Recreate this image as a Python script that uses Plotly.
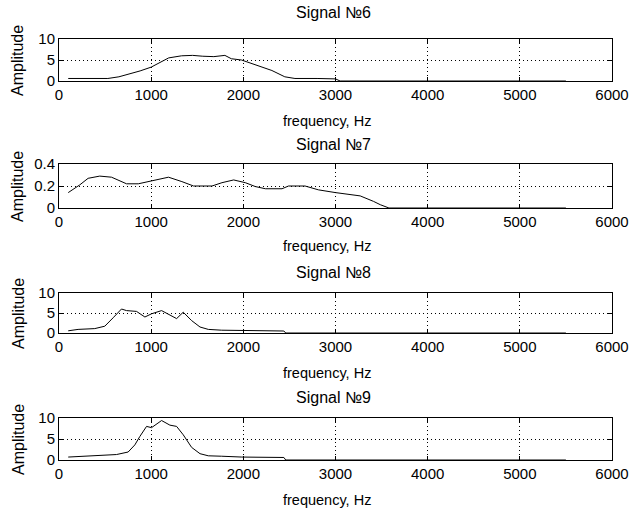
import plotly.graph_objects as go

# ---- data ----
titles = ["Signal №6", "Signal №7", "Signal №8", "Signal №9"]

freq6 = [100, 300, 530, 650, 750, 880, 1000, 1100, 1190, 1330, 1450, 1560, 1680, 1800, 1870, 1980, 2130, 2310, 2450, 2560, 2800, 3000, 3050, 5500]
amp6 = [0.6, 0.6, 0.6, 1.0, 1.6, 2.4, 3.3, 4.4, 5.5, 6.0, 6.1, 5.9, 5.8, 6.1, 5.3, 5.0, 3.8, 2.5, 1.0, 0.6, 0.6, 0.5, 0, 0]

freq7 = [100, 225, 316, 442, 570, 733, 860, 1007, 1188, 1333, 1460, 1660, 1768, 1895, 2022, 2130, 2240, 2420, 2490, 2670, 2815, 3000, 3160, 3268, 3413, 3486, 3580, 5500]
amp7 = [0.14, 0.21, 0.27, 0.29, 0.28, 0.22, 0.22, 0.25, 0.28, 0.24, 0.20, 0.20, 0.23, 0.255, 0.23, 0.195, 0.175, 0.175, 0.20, 0.20, 0.165, 0.14, 0.12, 0.11, 0.06, 0.03, 0, 0]

freq8 = [100, 207, 388, 497, 587, 678, 733, 841, 932, 1004, 1113, 1203, 1276, 1348, 1439, 1530, 1620, 1765, 1983, 2440, 2460, 5500]
amp8 = [0.55, 0.9, 1.1, 1.7, 3.8, 6.0, 5.6, 5.4, 4.0, 4.8, 5.6, 4.5, 3.6, 5.2, 3.1, 1.5, 0.9, 0.7, 0.6, 0.5, 0, 0]

freq9 = [100, 460, 624, 750, 823, 877, 950, 1004, 1040, 1113, 1203, 1276, 1348, 1439, 1530, 1620, 1765, 1983, 2440, 2460, 5500]
amp9 = [0.7, 1.1, 1.3, 1.9, 3.6, 5.6, 8.0, 7.7, 8.3, 9.4, 8.3, 8.0, 6.0, 3.0, 1.5, 1.0, 0.9, 0.7, 0.6, 0, 0]

x_ticks = [0, 1000, 2000, 3000, 4000, 5000, 6000]
y_ticks_big = [0, 5, 10]
y_ticks_small = [0, 0.2, 0.4]
y_ticklabels_small = ["0", "0.2", "0.4"]

series = [(freq6, amp6), (freq7, amp7), (freq8, amp8), (freq9, amp9)]
yranges = [[0, 10], [0, 0.4], [0, 10], [0, 10]]

# ---- layout geometry (body margin removed in the page) ----
W, H = 629, 509
L_PX, R_PX = 59, 612
T_PX, B_PX = 39, 460
span = B_PX - T_PX
pw = R_PX - L_PX

def py(p):
    return (B_PX - p) / span

def px(p):
    return (p - L_PX) / pw

panels_px = [(39, 81), (164, 208), (293, 333), (418, 460)]
title_px = [12.5, 144, 272, 397]
xlabel_px = [121, 246, 373, 500]

FONT = "Liberation Sans, Arial, sans-serif"

fig = go.Figure()
for i, (f, a) in enumerate(series):
    n = "" if i == 0 else str(i + 1)
    fig.add_trace(go.Scatter(x=f, y=a, mode="lines", line=dict(color="black", width=1),
                             xaxis="x" + n, yaxis="y" + n, showlegend=False, hoverinfo="skip"))

layout = dict(
    width=W, height=H,
    margin=dict(l=L_PX, r=W - R_PX, t=T_PX, b=H - B_PX, autoexpand=False),
    paper_bgcolor="white", plot_bgcolor="white",
    font=dict(family=FONT, size=15, color="black"),
    showlegend=False,
    annotations=[],
)
common_axis = dict(showline=True, linecolor="black", linewidth=1, mirror="ticks",
                   ticks="inside", ticklen=4, tickcolor="black",
                   showgrid=True, gridcolor="black", gridwidth=1, griddash="1px,3px",
                   zeroline=False, automargin=False, ticklabeloverflow="allow",
                   tickfont=dict(family=FONT, size=15, color="black"))
for i in range(4):
    n = "" if i == 0 else str(i + 1)
    top, bot = panels_px[i]
    xa = dict(common_axis, domain=[0, 1], range=[0, 6000], tickvals=x_ticks,
              ticktext=[str(v) for v in x_ticks], anchor="y" + n)
    if i == 1:
        ya = dict(common_axis, domain=[py(bot), py(top)], range=yranges[i],
                  tickvals=y_ticks_small, ticktext=y_ticklabels_small, anchor="x" + n)
    else:
        ya = dict(common_axis, domain=[py(bot), py(top)], range=yranges[i],
                  tickvals=y_ticks_big, ticktext=[str(v) for v in y_ticks_big], anchor="x" + n)
    layout["xaxis" + n] = xa
    layout["yaxis" + n] = ya
    layout["annotations"].append(dict(text=titles[i], xref="paper", yref="paper", x=px(333),
                                      y=py(title_px[i]), xanchor="center", yanchor="middle",
                                      showarrow=False, font=dict(family=FONT, size=16)))
    layout["annotations"].append(dict(text="frequency, Hz", xref="paper", yref="paper", x=px(327),
                                      y=py(xlabel_px[i]), xanchor="center", yanchor="middle",
                                      showarrow=False, font=dict(family=FONT, size=14.5)))
    layout["annotations"].append(dict(text="Amplitude", xref="paper", yref="paper",
                                      x=px(18), y=py((top + bot) / 2 + 1),
                                      xanchor="center", yanchor="middle", textangle=-90,
                                      showarrow=False, font=dict(family=FONT, size=16)))

fig.update_layout(**layout)
fig.write_html("out.html", config={"displayModeBar": False},
               post_script="document.body.style.margin='0';document.body.style.overflow='hidden';")
